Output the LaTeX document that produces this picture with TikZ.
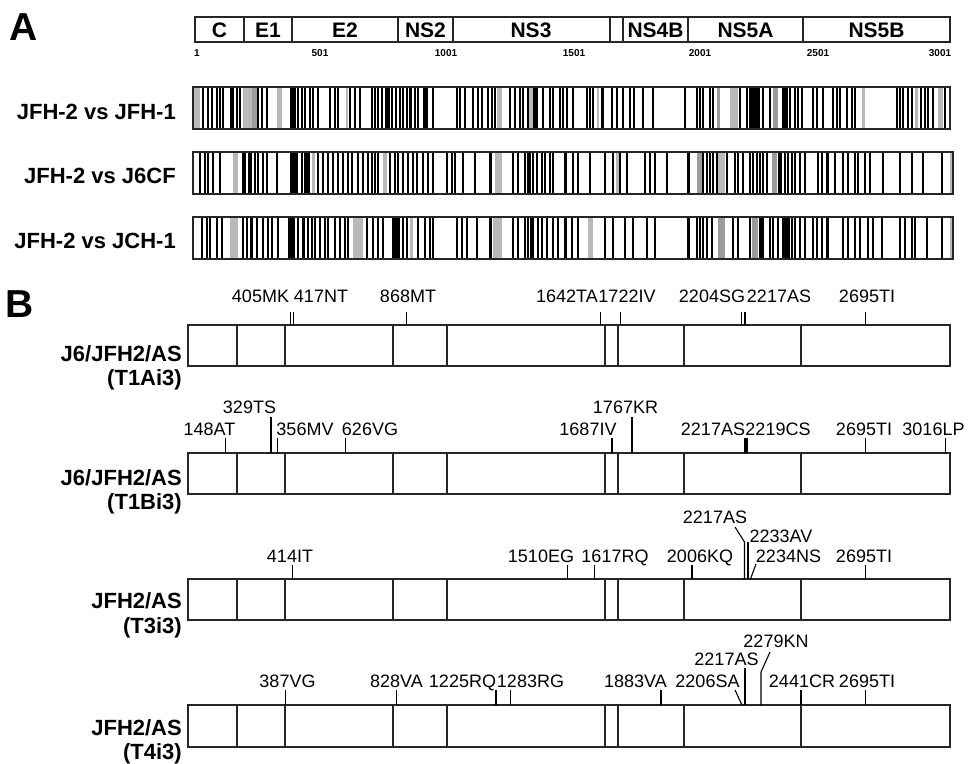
\documentclass[tikz,border=0pt]{standalone}
\usepackage{fontspec}
\setmainfont{Liberation Sans}
\newcommand\bcrow[6]{%
  \foreach \a/\b in {#6} \fill[gray!55] (\a,#1) rectangle (\b,#2);
  \foreach \a/\b in {#5} \fill[gray!78] (\a,#1) rectangle (\b,#2);
  \foreach \a/\b in {#4} \fill[black] (\a,#1) rectangle (\b,#2);
  \foreach \x in {#3} \draw[line width=1.05pt] (\x,#1) -- (\x,#2);
}
\newcommand\genbox[2]{%
  \draw[frame] (188,#1) rectangle (950,#2);
  \foreach \x in {237,285,393,447,605,618,684,801} \draw[frame] (\x,#1) -- (\x,#2);
}
\newcommand\mutl[6]{%
  \node[mutlab] (#1) at (#2,#3) {#4};
  \coordinate (#1-t) at (#5,#6);
  \coordinate (#1-b) at (#5,\boxtop);
  \draw[tickline] (#1-t) -- (#1-b);
}
\begin{document}
\begin{tikzpicture}[x=1pt,y=-1pt,
  frame/.style={draw=black!85,line width=1.2pt},
  tickline/.style={draw=black,line width=1.1pt},
  mutlab/.style={font=\fontsize{18}{20}\selectfont,anchor=base,inner sep=0pt},
  rowlab/.style={font=\fontsize{22}{24}\selectfont\bfseries,anchor=base east,inner sep=0pt},
  genlab/.style={font=\fontsize{21}{24}\selectfont\bfseries,inner sep=0pt},
  numlab/.style={font=\fontsize{10}{11}\selectfont\bfseries,inner sep=0pt},
  panlab/.style={font=\fontsize{39}{40}\selectfont\bfseries,inner sep=0pt}]
\useasboundingbox (0,0) rectangle (971,763);
\fill[white] (0,0) rectangle (971,763);

% ---------- panel A ----------
\node[panlab] (pA) at (24,27) {A};
\draw[frame] (195,17) rectangle (950,42);
\foreach \x in {244,292,398,453,610,623,688,803} \draw[frame] (\x,17) -- (\x,42);
\node[genlab] (gC) at (219.5,30) {C};
\node[genlab] (gE1) at (268,30) {E1};
\node[genlab] (gE2) at (345,30) {E2};
\node[genlab] (gNS2) at (425.5,30) {NS2};
\node[genlab] (gNS3) at (531,30) {NS3};
\node[genlab] (gNS4B) at (655.5,30) {NS4B};
\node[genlab] (gNS5A) at (745.5,30) {NS5A};
\node[genlab] (gNS5B) at (876.5,30) {NS5B};
\node[numlab] (n1) at (197,53) {1};
\node[numlab] (n501) at (320,53) {501};
\node[numlab] (n1001) at (446,53) {1001};
\node[numlab] (n1501) at (574,53) {1501};
\node[numlab] (n2001) at (700,53) {2001};
\node[numlab] (n2501) at (818,53) {2501};
\node[numlab] (n3001) at (940,53) {3001};

\node[rowlab] (c1) at (176,119) {JFH-2 vs JFH-1};
\node[rowlab] (c2) at (176,183) {JFH-2 vs J6CF};
\node[rowlab] (c3) at (176,248) {JFH-2 vs JCH-1};

% row 1
\bcrow{87}{129}
{203,208,212,217,220,223,237,240,258,262,267,298,302,305,310,313,318,330,335,338,350,355,360,372,375,378,382,392,396,400,403,407,415,418,433,457,460,465,473,478,482,488,492,495,510,515,520,523,528,543,550,553,560,563,567,573,587,590,593,612,617,623,630,634,643,653,685,697,700,703,710,713,740,747,763,770,790,795,798,802,813,817,823,833,837,840,847,852,855,897,900,903,908,912,925,928,933,945}
{230/233.5,290/296,385/390,409/412,423/428,533/538,601/604,749/760,782/788,919.5/922}
{717/720,773/778,252/257}
{194/200,243/252,277/282,346/348,497/502,529/533,597/599,730/738,862/864.5,915/918,938/943}
\draw[frame] (193,87) rectangle (950,129);

% row 2
\bcrow{152}{194}
{200,205,208,213,220,243,245,255,258,263,267,277,302,318,323,328,333,338,343,348,352,358,363,368,372,375,378,390,395,398,403,408,413,417,423,428,433,447,452,455,463,475,513,518,525,528,530,533,537,542,545,550,553,573,578,590,605,613,620,627,645,650,655,667,703,707,710,713,717,727,735,738,743,750,753,757,760,763,767,785,788,792,795,800,805,818,822,835,843,848,855,858,865,870,883,900,912,923,942}
{248/252,290/298,304/310,489/491.5,564/566.5,687/689.5,778/782,826/828.5}
{697/702,772/777}
{233/238,312/315,383/387,495/502,616/618.5,718/725,950/953}
\draw[frame] (193,152) rectangle (953,194);

% row 3
\bcrow{217}{259}
{202,207,210,217,222,243,247,257,263,268,272,278,298,308,312,315,320,325,328,335,340,345,348,367,373,378,383,403,407,418,425,430,433,457,462,467,477,513,518,525,528,531,533,538,542,547,553,558,572,578,605,613,625,633,647,655,697,700,703,707,712,733,738,750,763,770,773,778,792,795,800,805,813,817,822,843,848,855,860,868,873,882,900,905,912,915,927,942}
{250/253,288/295,302/305,392/400,489/491.5,564/566.5,687/689.5,759/761.5,782/790,826/828.5}
{718/725,752/758}
{230/238,353/363,410/413,493/502,588/593,950/953}
\draw[frame] (193,217) rectangle (953,259);

% ---------- panel B ----------
\node[panlab] (pB) at (20,304) {B};

% row 1
\genbox{325}{366}
\node[rowlab] (l1a) at (182,361) {J6/JFH2/AS};
\node[rowlab] (l1b) at (182,385) {(T1Ai3)};
\def\boxtop{325}
\mutl{m1a}{260.5}{302}{405MK}{290.2}{312}
\mutl{m1b}{321}{302}{417NT}{293.2}{312}
\mutl{m1c}{408}{302}{868MT}{406.4}{312}
\mutl{m1d}{567}{302}{1642TA}{600.6}{312}
\mutl{m1e}{627}{302}{1722IV}{620.7}{312}
\mutl{m1f}{712}{302}{2204SG}{741.7}{312}
\mutl{m1g}{779}{302}{2217AS}{745}{312}
\mutl{m1h}{867}{302}{2695TI}{865.4}{312}

% row 2
\genbox{453}{494}
\node[rowlab] (l2a) at (182,485) {J6/JFH2/AS};
\node[rowlab] (l2b) at (182,509) {(T1Bi3)};
\def\boxtop{453}
\mutl{m2a}{209.5}{435}{148AT}{225.6}{438}
\mutl{m2b}{249.5}{413}{329TS}{271}{417}
\mutl{m2c}{305}{435}{356MV}{277.9}{438}
\mutl{m2d}{370}{435}{626VG}{345.6}{438}
\mutl{m2e}{588}{435}{1687IV}{612}{438}
\mutl{m2f}{625.5}{413}{1767KR}{632}{417}
\mutl{m2g}{713}{435}{2217AS}{745}{438}
\mutl{m2h}{778}{435}{2219CS}{747}{438}
\mutl{m2i}{864}{435}{2695TI}{865.4}{438}
\mutl{m2j}{933.5}{435}{3016LP}{945.5}{438}

% row 3
\genbox{579}{620}
\node[rowlab] (l3a) at (182,608) {JFH2/AS};
\node[rowlab] (l3b) at (182,633) {(T3i3)};
\def\boxtop{579}
\mutl{m3a}{290}{562}{414IT}{292.4}{565}
\mutl{m3b}{541}{562}{1510EG}{567.5}{565}
\mutl{m3c}{615}{562}{1617RQ}{594.4}{565}
\mutl{m3d}{700}{562}{2006KQ}{692}{565}
\mutl{m3h}{864}{562}{2695TI}{865.4}{565}
\node[mutlab] (m3e) at (715,523) {2217AS};
\coordinate (m3e-t) at (735,527);
\coordinate (m3e-k) at (744.5,542);
\coordinate (m3e-b) at (744.5,579);
\draw[tickline] (m3e-t) -- (m3e-k) -- (m3e-b);
\node[mutlab] (m3f) at (781,542) {2233AV};
\coordinate (m3f-t) at (748,542);
\coordinate (m3f-b) at (748,579);
\draw[tickline] (m3f-t) -- (m3f-b);
\node[mutlab] (m3g) at (788.5,562) {2234NS};
\coordinate (m3g-t) at (756,564);
\coordinate (m3g-b) at (750.5,579);
\draw[tickline] (m3g-t) -- (m3g-b);

% row 4
\genbox{705}{747}
\node[rowlab] (l4a) at (182,735) {JFH2/AS};
\node[rowlab] (l4b) at (182,759) {(T4i3)};
\def\boxtop{705}
\mutl{m4a}{287.5}{687}{387VG}{285.6}{690}
\mutl{m4b}{396.5}{687}{828VA}{396.3}{690}
\mutl{m4c}{462.5}{687}{1225RQ}{496}{690}
\mutl{m4d}{530.5}{687}{1283RG}{510.5}{690}
\mutl{m4e}{635.5}{687}{1883VA}{661}{690}
\mutl{m4i}{802}{687}{2441CR}{801}{690}
\mutl{m4j}{867}{687}{2695TI}{865.4}{690}
\node[mutlab] (m4f) at (707.5,687) {2206SA};
\coordinate (m4f-t) at (735,690);
\coordinate (m4f-b) at (742,705);
\draw[tickline] (m4f-t) -- (m4f-b);
\node[mutlab] (m4g) at (726.5,665) {2217AS};
\coordinate (m4g-t) at (745,668);
\coordinate (m4g-b) at (745,705);
\draw[tickline] (m4g-t) -- (m4g-b);
\node[mutlab] (m4h) at (776,647) {2279KN};
\coordinate (m4h-t) at (770,652);
\coordinate (m4h-k) at (761,672);
\coordinate (m4h-b) at (761,705);
\draw[tickline] (m4h-t) -- (m4h-k) -- (m4h-b);
\end{tikzpicture}
\end{document}
